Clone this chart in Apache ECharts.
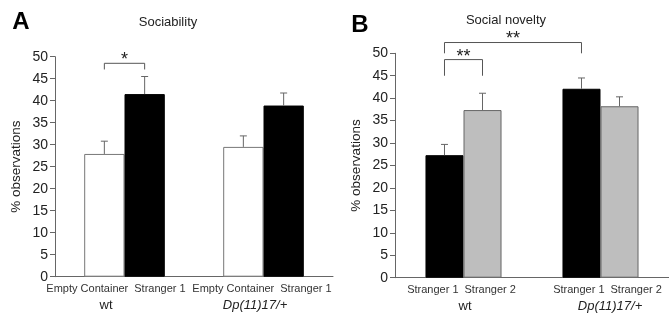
<!DOCTYPE html>
<html>
<head>
<meta charset="utf-8">
<script src="https://cdn.jsdelivr.net/npm/echarts@6/dist/echarts.min.js"></script>
<style>html,body{margin:0;padding:0;background:#fff}#c{width:669px;height:317px}</style>
</head>
<body>
<div id="c"></div>
<script>
// ---- data ----
const groups = ['wt', 'Dp(11)17/+'];
const barsA = ['Empty Container', 'Stranger 1'];
const barsB = ['Stranger 1', 'Stranger 2'];
const yTicks = [0, 50, 5]; // min, max, interval
// Panel A: Sociability
const emptyA = [27.9, 29.5];
const emptyA_sem = [2.9, 2.5];
const strangerA = [41.5, 38.9];
const strangerA_sem = [4.0, 2.85];
// Panel B: Social novelty
const s1B = [27.3, 42.1];
const s1B_sem = [2.4, 2.4];
const s2B = [37.35, 38.2];
const s2B_sem = [3.75, 2.1];
// significance brackets: [cat1, slot1, cat2, slot2, yTop, yEnd]
const bracketsA = [[0, 0, 0, 1, 48.5, 47.1]];
const bracketsA_labels = ['*'];
const bracketsB = [[0, 0, 0, 1, 48.6, 45.0], [0, 0, 1, 0, 52.4, 50.0]];
const bracketsB_labels = ['**', '**'];

// ---- styles / layout ----
const FONT = '"Liberation Sans", Arial, Helvetica, sans-serif';
const GAP_A = 0.42, GAP_B = 0.445;
// label line offsets (px) from tick centre: [row1, row2]
const labelShift = {A: [[-8.5, -18.5], [-1.5, -8.5]], B: [[-2, 1.5], [7, 9.5]]};

function pad(d) { // [leftPad, rightPad] widths that shift a centred line by d
  return d >= 0 ? [2 * d, 0] : [0, -2 * d];
}
function buildLabel(bars, shifts) {
  const rich = {
    a: {fontSize: 11, color: '#333', lineHeight: 14, fontFamily: FONT},
    s: {width: 6, fontSize: 11, lineHeight: 14},
    g: {fontSize: 13, color: '#222', lineHeight: 19, fontFamily: FONT},
    gi: {fontSize: 13, color: '#222', lineHeight: 19, fontStyle: 'italic', fontFamily: FONT}
  };
  let k = 0;
  function padTok(w, lh) {
    if (w <= 0) return '';
    const name = 'p' + (k++);
    rich[name] = {width: w, fontSize: 11, lineHeight: lh};
    return '{' + name + '| }';
  }
  const texts = groups.map(function (gname, i) {
    const p1 = pad(shifts[i][0]), p2 = pad(shifts[i][1]);
    const gs = gname === 'wt' ? 'g' : 'gi';
    return padTok(p1[0], 14) + '{a|' + bars[0] + '}{s| }{a|' + bars[1] + '}' + padTok(p1[1], 14) +
      '\n' + padTok(p2[0], 19) + '{' + gs + '|' + gname + '}' + padTok(p2[1], 19);
  });
  return {
    interval: 0, margin: 5, rich: rich,
    formatter: function (v, i) { return texts[i]; }
  };
}

function errorRender(gap) {
  return function (params, api) {
    const cat = api.value(0), v = api.value(1), e = api.value(2), slot = api.value(3);
    const band = api.size([1, 0])[0];
    const bw = band * (1 - gap) / 2;
    const cx = api.coord([cat, 0])[0] + (slot - 0.5) * bw;
    const y0 = api.coord([cat, v])[1];
    const y1 = api.coord([cat, v + e])[1];
    const st = {stroke: '#666', lineWidth: 1};
    return {type: 'group', children: [
      {type: 'line', shape: {x1: cx, y1: y0, x2: cx, y2: y1}, style: st},
      {type: 'line', shape: {x1: cx - 3.5, y1: y1, x2: cx + 3.5, y2: y1}, style: st}
    ]};
  };
}
function bracketRender(gap, labels) {
  return function (params, api) {
    const band = api.size([1, 0])[0];
    const bw = band * (1 - gap) / 2;
    const xa = api.coord([api.value(0), 0])[0] + (api.value(1) - 0.5) * bw;
    const xb = api.coord([api.value(2), 0])[0] + (api.value(3) - 0.5) * bw;
    const yt = api.coord([0, api.value(4)])[1];
    const ye = api.coord([0, api.value(5)])[1];
    return {type: 'group', children: [
      {type: 'polyline', shape: {points: [[xa, ye], [xa, yt], [xb, yt], [xb, ye]]},
        style: {stroke: '#555', lineWidth: 1, fill: null}},
      {type: 'text', style: {text: labels[params.dataIndex], x: (xa + xb) / 2, y: yt + 6,
        align: 'center', verticalAlign: 'bottom', fontSize: 18, fontFamily: FONT, fill: '#222'}}
    ]};
  };
}
function errData(vals, sems, slot) {
  return vals.map(function (v, i) { return [i, v, sems[i], slot]; });
}

const yAxisBase = {
  type: 'value', min: yTicks[0], max: yTicks[1], interval: yTicks[2],
  name: '% observations', nameLocation: 'middle', nameGap: 32,
  nameTextStyle: {fontSize: 13.5, color: '#222', fontFamily: FONT},
  axisLine: {show: true, lineStyle: {color: '#666'}},
  axisTick: {show: true, length: 5, lineStyle: {color: '#666'}},
  axisLabel: {fontSize: 14, color: '#222', margin: 7, fontFamily: FONT},
  splitLine: {show: false}
};
const xAxisBase = {
  type: 'category', data: groups,
  axisLine: {lineStyle: {color: '#666'}},
  axisTick: {length: 5, lineStyle: {color: '#666'}}
};

const option = {
  animation: false,
  textStyle: {fontFamily: FONT},
  title: [
    {text: 'A', left: 16, top: 5, textAlign: 'center', textStyle: {fontSize: 24, fontWeight: 'bold', color: '#000', fontFamily: FONT}},
    {text: 'B', left: 355, top: 8, textAlign: 'center', textStyle: {fontSize: 24, fontWeight: 'bold', color: '#000', fontFamily: FONT}},
    {text: 'Sociability', left: 163, top: 11, textAlign: 'center', textStyle: {fontSize: 13, fontWeight: 'normal', color: '#222', fontFamily: FONT}},
    {text: 'Social novelty', left: 501, top: 9, textAlign: 'center', textStyle: {fontSize: 13, fontWeight: 'normal', color: '#222', fontFamily: FONT}}
  ],
  grid: [
    {left: 55, top: 56.7, width: 278, height: 220},
    {left: 395, top: 53.3, width: 278, height: 224.4}
  ],
  xAxis: [
    Object.assign({gridIndex: 0, axisLabel: buildLabel(barsA, labelShift.A)}, xAxisBase),
    Object.assign({gridIndex: 1, axisLabel: buildLabel(barsB, labelShift.B)}, xAxisBase)
  ],
  yAxis: [
    Object.assign({gridIndex: 0}, yAxisBase),
    Object.assign({gridIndex: 1}, yAxisBase)
  ],
  series: [
    {name: barsA[0], type: 'bar', xAxisIndex: 0, yAxisIndex: 0, data: emptyA, barGap: '0%', barCategoryGap: (GAP_A * 100) + '%',
      itemStyle: {color: '#fff', borderColor: '#777', borderWidth: 1}},
    {name: barsA[1], type: 'bar', xAxisIndex: 0, yAxisIndex: 0, data: strangerA, barGap: '0%', barCategoryGap: (GAP_A * 100) + '%',
      itemStyle: {color: '#000', borderColor: '#000', borderWidth: 1}},
    {type: 'custom', xAxisIndex: 0, yAxisIndex: 0, renderItem: errorRender(GAP_A), encode: {x: 0, y: 1},
      data: errData(emptyA, emptyA_sem, 0).concat(errData(strangerA, strangerA_sem, 1)), z: 3},
    {type: 'custom', xAxisIndex: 0, yAxisIndex: 0, renderItem: bracketRender(GAP_A, bracketsA_labels), encode: {x: 0, y: 4},
      data: bracketsA, z: 3},
    {name: barsB[0], type: 'bar', xAxisIndex: 1, yAxisIndex: 1, data: s1B, barGap: '0%', barCategoryGap: (GAP_B * 100) + '%',
      itemStyle: {color: '#000', borderColor: '#000', borderWidth: 1}},
    {name: barsB[1], type: 'bar', xAxisIndex: 1, yAxisIndex: 1, data: s2B, barGap: '0%', barCategoryGap: (GAP_B * 100) + '%',
      itemStyle: {color: '#bebebe', borderColor: '#666', borderWidth: 1}},
    {type: 'custom', xAxisIndex: 1, yAxisIndex: 1, renderItem: errorRender(GAP_B), encode: {x: 0, y: 1},
      data: errData(s1B, s1B_sem, 0).concat(errData(s2B, s2B_sem, 1)), z: 3},
    {type: 'custom', xAxisIndex: 1, yAxisIndex: 1, renderItem: bracketRender(GAP_B, bracketsB_labels), encode: {x: 0, y: 4},
      data: bracketsB, z: 3}
  ]
};
const chart = echarts.init(document.getElementById('c'), null, {renderer: 'canvas'});
chart.setOption(option);
</script>
</body>
</html>
